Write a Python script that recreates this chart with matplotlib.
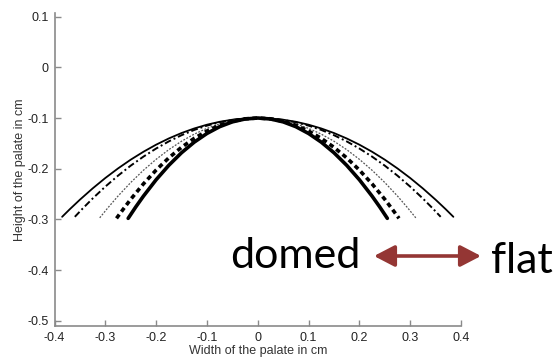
import matplotlib
matplotlib.use("Agg")
import matplotlib.pyplot as plt

# ---- data (right half of each symmetric curve, cm) ----
flat_hx = [0.0, 0.025, 0.05, 0.075, 0.10, 0.125, 0.15, 0.175, 0.20, 0.225, 0.25, 0.275, 0.30, 0.325, 0.35, 0.37, 0.385]
flat_hy = [-0.100, -0.1008, -0.1033, -0.1074, -0.1132, -0.1206, -0.1296, -0.1403, -0.1526, -0.1666, -0.1822, -0.1995, -0.2184, -0.2390, -0.2612, -0.2801, -0.295]

mid1_hx = [0.0, 0.025, 0.05, 0.075, 0.10, 0.125, 0.15, 0.175, 0.20, 0.225, 0.25, 0.275, 0.30, 0.325, 0.345, 0.36]
mid1_hy = [-0.100, -0.1009, -0.1038, -0.1085, -0.1150, -0.1235, -0.1339, -0.1461, -0.1602, -0.1762, -0.1940, -0.2138, -0.2354, -0.2589, -0.2791, -0.295]

mid2_hx = [0.0, 0.025, 0.05, 0.075, 0.10, 0.125, 0.15, 0.175, 0.20, 0.225, 0.25, 0.275, 0.295, 0.311]
mid2_hy = [-0.100, -0.1013, -0.1051, -0.1115, -0.1204, -0.1318, -0.1458, -0.1624, -0.1815, -0.2031, -0.2273, -0.2540, -0.2773, -0.297]

mid3_hx = [0.0, 0.025, 0.05, 0.075, 0.10, 0.125, 0.15, 0.175, 0.20, 0.225, 0.25, 0.265, 0.278]
mid3_hy = [-0.100, -0.1016, -0.1064, -0.1144, -0.1257, -0.1401, -0.1578, -0.1786, -0.2027, -0.2300, -0.2604, -0.2803, -0.298]

dome_hx = [0.0, 0.025, 0.05, 0.075, 0.10, 0.125, 0.15, 0.175, 0.20, 0.225, 0.24, 0.255]
dome_hy = [-0.100, -0.1019, -0.1076, -0.1171, -0.1305, -0.1476, -0.1685, -0.1933, -0.2218, -0.2542, -0.2754, -0.298]

xticks = [-0.4, -0.3, -0.2, -0.1, 0, 0.1, 0.2, 0.3, 0.4]
xtick_labels = ["-0.4", "-0.3", "-0.2", "-0.1", "0", "0.1", "0.2", "0.3", "0.4"]
yticks = [0.1, 0, -0.1, -0.2, -0.3, -0.4, -0.5]
ytick_labels = ["0.1", "0", "-0.1", "-0.2", "-0.3", "-0.4", "-0.5"]


def full(hx, hy):
    xs = [-v for v in reversed(hx)] + hx[1:]
    ys = list(reversed(hy)) + hy[1:]
    return xs, ys


W, H = 560, 360
fig = plt.figure(figsize=(W / 100, H / 100), dpi=100)
fig.patch.set_facecolor("white")
ax = fig.add_axes([54.5 / W, 1 - 326 / H, (461 - 54.5) / W, (326 - 13.3) / H])

ax.plot(*full(flat_hx, flat_hy), color="black", lw=1.3, solid_capstyle="round")
ax.plot(*full(mid1_hx, mid1_hy), color="black", lw=1.4, linestyle=(0, (3.5, 1.5, 1, 1.5)))
ax.plot(*full(mid2_hx, mid2_hy), color="#555555", lw=0.9, linestyle=(0, (1.5, 1.2)))
ax.plot(*full(mid3_hx, mid3_hy), color="black", lw=2.6, linestyle=(0, (1.3, 1.0)))
ax.plot(*full(dome_hx, dome_hy), color="black", lw=2.6, solid_capstyle="round")

ax.set_xlim(-0.4, 0.4)
ax.set_ylim(-0.5105, 0.1067)
for s in ["top", "right"]:
    ax.spines[s].set_visible(False)
for s in ["left", "bottom"]:
    ax.spines[s].set_color("#8a8a8a")
    ax.spines[s].set_linewidth(1.2)

tick_font = dict(family="Liberation Sans", size=9, color="#222222")
ax.set_xticks(xticks)
ax.set_xticklabels(xtick_labels, **tick_font)
ax.set_yticks(yticks)
ax.set_yticklabels(ytick_labels, **tick_font)
ax.tick_params(direction="in", length=4, width=1, color="#8a8a8a", pad=4)

ax.set_xlabel("Width of the palate in cm", family="Liberation Sans", size=9, color="#333333", labelpad=1)
ax.set_ylabel("Height of the palate in cm", family="Liberation Sans", size=9, color="#333333", labelpad=1)

fig.text(361 / W, 1 - 268 / H, "domed", family="Lato", size=31, color="black",
         ha="right", va="baseline")
fig.text(490.7 / W, 1 - 273 / H, "flat", family="Lato", size=31, color="black",
         ha="left", va="baseline")
fig.add_artist(matplotlib.patches.FancyArrowPatch(
    (374 / W, 1 - 256 / H), (481 / W, 1 - 256 / H), transform=fig.transFigure,
    arrowstyle="<|-|>,head_length=5,head_width=2.6", color="#943634", lw=2.6,
    mutation_scale=2.5, shrinkA=0, shrinkB=0))

fig.savefig("out.png", dpi=100, facecolor="white")
